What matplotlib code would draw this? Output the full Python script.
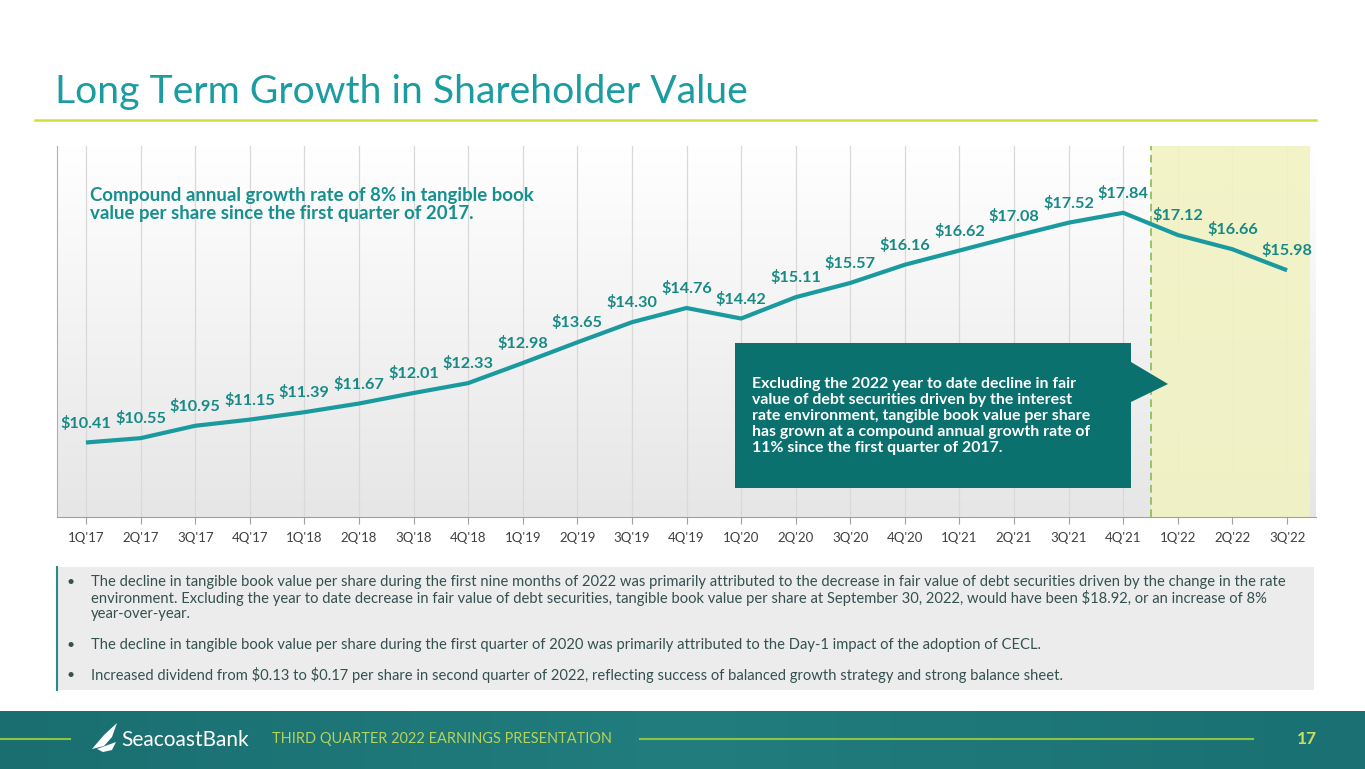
import numpy as np
import matplotlib
matplotlib.use("Agg")
import matplotlib.pyplot as plt
from matplotlib.patches import Rectangle, Polygon

quarters = ["1Q'17", "2Q'17", "3Q'17", "4Q'17", "1Q'18", "2Q'18", "3Q'18", "4Q'18",
            "1Q'19", "2Q'19", "3Q'19", "4Q'19", "1Q'20", "2Q'20", "3Q'20", "4Q'20",
            "1Q'21", "2Q'21", "3Q'21", "4Q'21", "1Q'22", "2Q'22", "3Q'22"]
tbv = [10.41, 10.55, 10.95, 11.15, 11.39, 11.67, 12.01, 12.33, 12.98, 13.65, 14.30, 14.76,
       14.42, 15.11, 15.57, 16.16, 16.62, 17.08, 17.52, 17.84, 17.12, 16.66, 15.98]
labels = ["$%.2f" % v for v in tbv]

title = "Long Term Growth in Shareholder Value"
cagr_note = ["Compound annual growth rate of 8% in tangible book",
             "value per share since the first quarter of 2017."]
callout = ["Excluding the 2022 year to date decline in fair",
           "value of debt securities driven by the interest",
           "rate environment, tangible book value per share",
           "has grown at a compound annual growth rate of",
           "11% since the first quarter of 2017."]
bullets = [
    ["The decline in tangible book value per share during the first nine months of 2022 was primarily attributed to the decrease in fair value of debt securities driven by the change in the rate",
     "environment. Excluding the year to date decrease in fair value of debt securities, tangible book value per share at September 30, 2022, would have been $18.92, or an increase of 8%",
     "year-over-year."],
    ["The decline in tangible book value per share during the first quarter of 2020 was primarily attributed to the Day-1 impact of the adoption of CECL."],
    ["Increased dividend from $0.13 to $0.17 per share in second quarter of 2022, reflecting success of balanced growth strategy and strong balance sheet."],
]
footer_text = "THIRD QUARTER 2022 EARNINGS PRESENTATION"
page_no = "17"

plt.rcParams['font.family'] = ['Lato', 'DejaVu Sans']

W, H = 1365, 769
fig = plt.figure(figsize=(W / 100, H / 100), dpi=100)
fig.patch.set_facecolor('white')


def fx(x):
    return x / W


def fy(y):
    return 1 - y / H


TEAL = '#1a9a9e'
LBL = '#178a86'
DARK = '#0b716e'

# title
fig.text(fx(55), fy(92), title, fontsize=28.2, color='#1a9ca1', va='center', ha='left', parse_math=False)
fig.add_artist(plt.Line2D([fx(35), fx(1316)], [fy(120), fy(120)], color='#d4dc3c', lw=1.8))

# chart axes
ax = fig.add_axes([fx(57), fy(517), fx(1316) - fx(57), (517 - 146) / H])
ax.set_xlim(-0.53, 22.53)
ax.set_ylim(8, 20)
grad = np.linspace(1, 0, 256).reshape(-1, 1)
cmap = matplotlib.colors.LinearSegmentedColormap.from_list('g', ['#e6e6e6', '#ffffff'])
ax.imshow(grad, extent=[0, 1, 0, 1], transform=ax.transAxes, aspect='auto', cmap=cmap,
          zorder=0, origin='upper', vmin=0, vmax=1)
x = np.arange(len(quarters))
for xi in x:
    ax.axvline(xi, color='#d9d9d9', lw=0.9, zorder=1)
ax.axvspan(19.5, 22.42, color='#f2f2c3', alpha=0.9, zorder=1.5, lw=0)
ax.axvline(19.5, color='#7fb842', lw=1.1, ls=(0, (5, 3)), zorder=2)
ax.plot(x, tbv, color=TEAL, lw=3.0, zorder=3, solid_capstyle='butt')
for xi, v, lab in zip(x, tbv, labels):
    ax.annotate(lab, (xi, v), xytext=(0, 14), textcoords='offset points', ha='center', va='center',
                fontsize=11.7, fontweight='bold', color=LBL, parse_math=False, zorder=4)
ax.set_xticks(x)
ax.set_xticklabels(quarters, fontsize=9.5, color='#404040')
ax.set_yticks([])
ax.tick_params(axis='x', length=5, color='#a0a0a0', pad=6)
for s in ['top', 'right']:
    ax.spines[s].set_visible(False)
ax.spines['left'].set_color('#b0b0b0')
ax.spines['bottom'].set_color('#a0a0a0')

# CAGR note
for i, line in enumerate(cagr_note):
    fig.text(fx(90), fy(196 + i * 18), line, fontsize=13.4, fontweight='bold', color='#16908f',
             va='center', ha='left', parse_math=False)

# callout box with arrow
bx0, bx1, by0, by1 = 735, 1131, 343, 488
poly = [(bx0, by0), (bx1, by0), (bx1, 362), (1168, 384), (bx1, 402), (bx1, by1), (bx0, by1)]
fig.add_artist(Polygon([(fx(a), fy(b)) for a, b in poly], closed=True, facecolor=DARK,
                       edgecolor='none', transform=fig.transFigure, zorder=5))
for i, line in enumerate(callout):
    fig.text(fx(752), fy(384 + i * 16), line, fontsize=11.4, fontweight='bold', color='white',
             va='center', ha='left', zorder=6, parse_math=False)

# bullets box
fig.add_artist(Rectangle((fx(57), fy(690)), fx(1314) - fx(57), (690 - 567) / H,
                         facecolor='#ececec', edgecolor='none', transform=fig.transFigure))
fig.add_artist(plt.Line2D([fx(57), fx(57)], [fy(567), fy(690)], color='#2a8a8a', lw=1.5))
ys = [[582, 598, 614], [645], [675]]
for blines, yl in zip(bullets, ys):
    fig.text(fx(66), fy(yl[0]), "\u2022", fontsize=10, color='#34504f', va='center', ha='left')
    for line, yy in zip(blines, yl):
        fig.text(fx(91), fy(yy), line, fontsize=10.6, color='#34504f', va='center', ha='left',
                 parse_math=False)

# footer band
fgrad = np.linspace(0, 1, 256).reshape(1, -1)
fcmap = matplotlib.colors.LinearSegmentedColormap.from_list('f', ['#1a6e70', '#217d7e', '#1a7072'])
fax = fig.add_axes([0, 0, 1, (769 - 711) / H])
fax.imshow(fgrad, aspect='auto', cmap=fcmap, extent=[0, 1, 0, 1])
fax.set_xlim(0, 1)
fax.set_ylim(0, 1)
fax.axis('off')
fig.add_artist(plt.Line2D([fx(0), fx(70)], [fy(739), fy(739)], color='#8cc63f', lw=1.5))
fig.add_artist(plt.Line2D([fx(640), fx(1253)], [fy(739), fy(739)], color='#8cc63f', lw=1.5))
sail1 = [(92, 749), (104, 735), (117, 723), (112, 737), (104, 746)]
sail2 = [(97, 749), (116, 742), (112, 750), (103, 752)]
for s in (sail1, sail2):
    fig.add_artist(Polygon([(fx(a), fy(b)) for a, b in s], closed=True, facecolor='white',
                           edgecolor='none', transform=fig.transFigure))
fig.text(fx(121), fy(740), "SeacoastBank", fontsize=15, color='white', va='center', ha='left')
fig.text(fx(272), fy(739), footer_text, fontsize=10.45, color='#b6d45a', va='center', ha='left')
fig.text(fx(1317), fy(739), page_no, fontsize=12.5, fontweight='bold', color='#c8e060',
         va='center', ha='right')

fig.savefig('out.png', dpi=100)
